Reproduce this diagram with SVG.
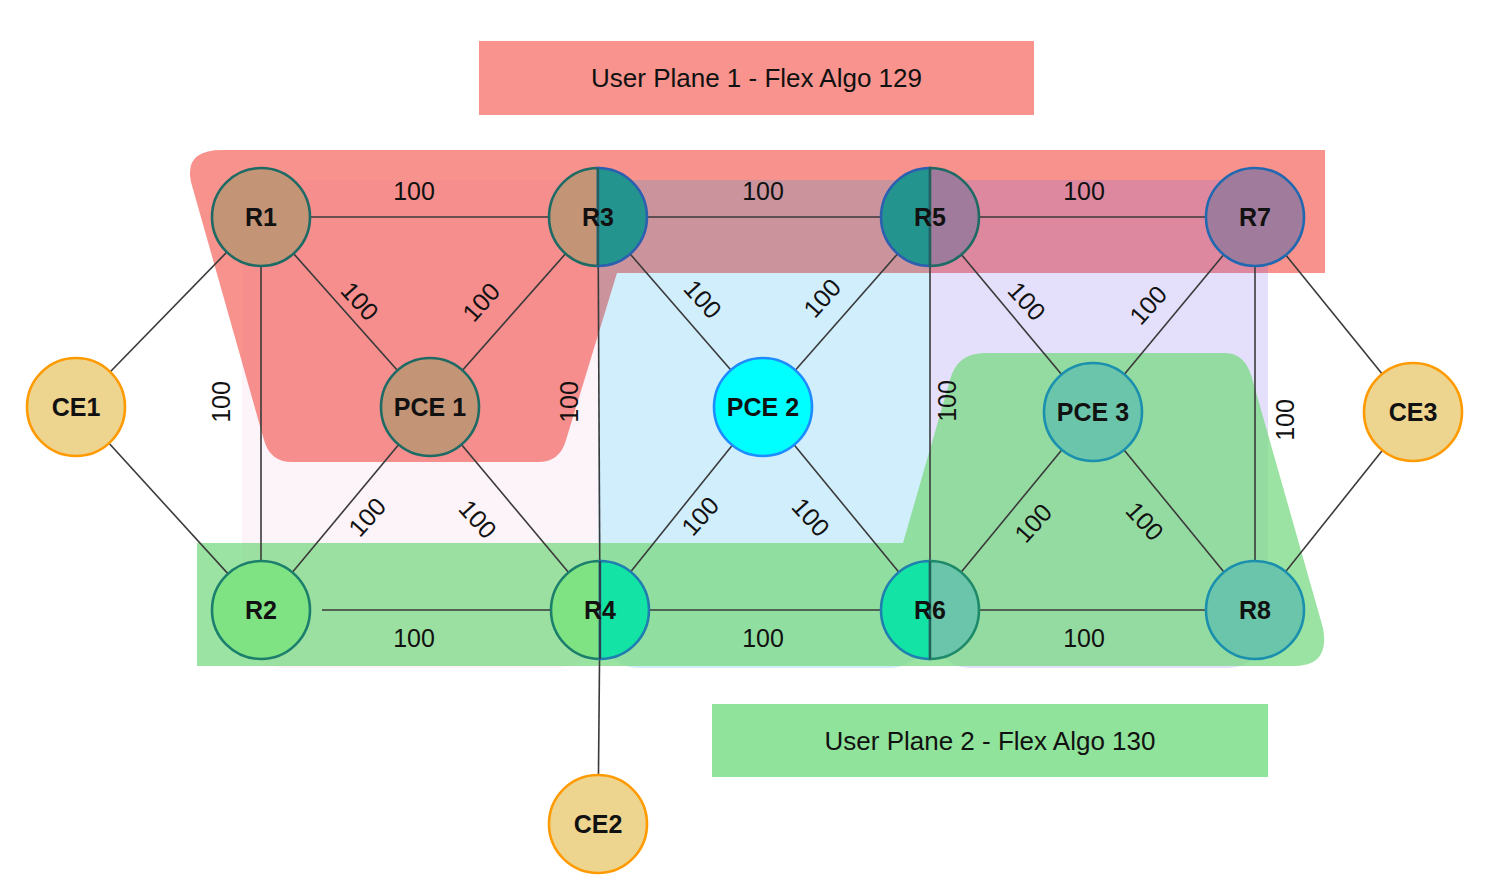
<svg xmlns="http://www.w3.org/2000/svg" width="1510" height="890" viewBox="0 0 1510 890">
<style>
.edge{stroke:#3a3a3a;stroke-width:1.6;fill:none}
.lbl{font-family:"Liberation Sans",Arial,sans-serif;font-size:25px;fill:#111;text-anchor:middle}
.nl{font-family:"Liberation Sans",Arial,sans-serif;font-size:25px;font-weight:bold;fill:#111;text-anchor:middle}
.title{font-family:"Liberation Sans",Arial,sans-serif;font-size:26px;fill:#111;text-anchor:middle}
.ce{fill:#EED58F;stroke:#FF9A00;stroke-width:2.6}
.div{stroke:#22605A;stroke-width:2}
</style>
<rect width="1510" height="890" fill="#fff"/>
<g id="planes">
<path id="plane1" d="M222,150 L1325,150 L1325,273 L617,273 L566,440 Q560,462 538,462 L292,462 Q270,462 264,440 L191,182 Q184,150 222,150 Z" fill="#F8928C"/>
<rect id="domain-pink" x="242" y="180" width="356" height="488" rx="40" fill="#E060A0" opacity="0.065"/>
<rect id="domain-blue" x="598" y="180" width="332" height="488" rx="40" fill="#00A0F0" opacity="0.18"/>
<rect id="domain-lav" x="930" y="180" width="338" height="488" rx="40" fill="#7864F0" opacity="0.2"/>
<path id="plane2" d="M197,543 L903,543 L950,380 Q957,353 985,353 L1225,353 Q1245,353 1252,378 L1323,628 Q1330,666 1295,666 L197,666 Z" fill="#79D983" opacity="0.75"/>
</g>
<g id="title1">
<rect x="479" y="41" width="555" height="74" fill="#F8938D"/>
<text class="title" x="756.5" y="87">User Plane 1 - Flex Algo 129</text>
</g>
<g id="title2">
<rect x="712" y="704" width="556" height="73" fill="#90E39B"/>
<text class="title" x="990" y="750">User Plane 2 - Flex Algo 130</text>
</g>
<g id="connectors">
<line class="edge" x1="261" y1="217" x2="598" y2="217" stroke="#444" stroke-width="2"/>
<line class="edge" x1="598" y1="217" x2="930" y2="217" stroke="#444" stroke-width="2"/>
<line class="edge" x1="930" y1="217" x2="1255" y2="217" stroke="#444" stroke-width="2"/>
<line class="edge" x1="322" y1="610" x2="600" y2="610" stroke="#444" stroke-width="2"/>
<line class="edge" x1="600" y1="610" x2="930" y2="610" stroke="#444" stroke-width="2"/>
<line class="edge" x1="930" y1="610" x2="1255" y2="610" stroke="#444" stroke-width="2"/>
<line class="edge" x1="261" y1="217" x2="261" y2="610" stroke="#555" stroke-width="2"/>
<line class="edge" x1="598" y1="217" x2="600" y2="610"/>
<line class="edge" x1="930" y1="217" x2="930" y2="610" stroke="#555" stroke-width="2"/>
<line class="edge" x1="1255" y1="217" x2="1255" y2="610" stroke="#666" stroke-width="2.2"/>
<line class="edge" x1="600" y1="610" x2="598" y2="824"/>
<line class="edge" x1="261" y1="217" x2="430" y2="407"/>
<line class="edge" x1="598" y1="217" x2="430" y2="407"/>
<line class="edge" x1="261" y1="610" x2="430" y2="407"/>
<line class="edge" x1="600" y1="610" x2="430" y2="407"/>
<line class="edge" x1="598" y1="217" x2="763" y2="407"/>
<line class="edge" x1="930" y1="217" x2="763" y2="407"/>
<line class="edge" x1="600" y1="610" x2="763" y2="407"/>
<line class="edge" x1="930" y1="610" x2="763" y2="407"/>
<line class="edge" x1="930" y1="217" x2="1093" y2="412"/>
<line class="edge" x1="1255" y1="217" x2="1093" y2="412"/>
<line class="edge" x1="930" y1="610" x2="1093" y2="412"/>
<line class="edge" x1="1255" y1="610" x2="1093" y2="412"/>
<line class="edge" x1="76" y1="407" x2="261" y2="217"/>
<line class="edge" x1="76" y1="407" x2="261" y2="610"/>
<line class="edge" x1="1413" y1="412" x2="1255" y2="217"/>
<line class="edge" x1="1413" y1="412" x2="1255" y2="610"/>
</g>
<g id="edge-labels">
<text class="lbl" x="414" y="200">100</text>
<text class="lbl" x="763" y="200">100</text>
<text class="lbl" x="1084" y="200">100</text>
<text class="lbl" x="414" y="647">100</text>
<text class="lbl" x="763" y="647">100</text>
<text class="lbl" x="1084" y="647">100</text>
<text class="lbl" transform="translate(221,402) rotate(-90)" y="9">100</text>
<text class="lbl" transform="translate(569,402) rotate(-90)" y="9">100</text>
<text class="lbl" transform="translate(947,401) rotate(-90)" y="9">100</text>
<text class="lbl" transform="translate(1285,420) rotate(-90)" y="9">100</text>
<text class="lbl" transform="translate(360,301) rotate(48)" y="9">100</text>
<text class="lbl" transform="translate(481,302) rotate(-48)" y="9">100</text>
<text class="lbl" transform="translate(367,517) rotate(-48)" y="9">100</text>
<text class="lbl" transform="translate(478,519) rotate(48)" y="9">100</text>
<text class="lbl" transform="translate(703,299) rotate(48)" y="9">100</text>
<text class="lbl" transform="translate(822,298) rotate(-48)" y="9">100</text>
<text class="lbl" transform="translate(700,516) rotate(-48)" y="9">100</text>
<text class="lbl" transform="translate(811,517) rotate(48)" y="9">100</text>
<text class="lbl" transform="translate(1027,301) rotate(48)" y="9">100</text>
<text class="lbl" transform="translate(1148,305) rotate(-48)" y="9">100</text>
<text class="lbl" transform="translate(1033,523) rotate(-48)" y="9">100</text>
<text class="lbl" transform="translate(1145,521) rotate(48)" y="9">100</text>
</g>
<g id="R1"><circle cx="261" cy="217" r="49" fill="#C49476" stroke="#1E6B65" stroke-width="2.6"/><text class="nl" x="261" y="226">R1</text></g>
<g id="R3">
<path d="M598,168 A49,49 0 0 0 598,266 Z" fill="#C49476" stroke="#1E6B65" stroke-width="2.6"/>
<path d="M598,168 A49,49 0 0 1 598,266 Z" fill="#24948F" stroke="#2C5FB0" stroke-width="2.6"/>
<line class="div" x1="598" y1="168" x2="598" y2="266"/>
<text class="nl" x="598" y="226">R3</text></g>
<g id="R5">
<path d="M930,168 A49,49 0 0 0 930,266 Z" fill="#24948F" stroke="#2C5FB0" stroke-width="2.6"/>
<path d="M930,168 A49,49 0 0 1 930,266 Z" fill="#A07B9B" stroke="#1E6B65" stroke-width="2.6"/>
<line class="div" x1="930" y1="168" x2="930" y2="266"/>
<text class="nl" x="930" y="226">R5</text></g>
<g id="R7"><circle cx="1255" cy="217" r="49" fill="#A07B9B" stroke="#2068B0" stroke-width="2.6"/><text class="nl" x="1255" y="226">R7</text></g>
<g id="PCE1"><circle cx="430" cy="407" r="49" fill="#C49476" stroke="#1E6B65" stroke-width="2.6"/><text class="nl" x="430" y="416">PCE 1</text></g>
<g id="PCE2"><circle cx="763" cy="407" r="49" fill="#00FFFF" stroke="#1E8CFF" stroke-width="2.6"/><text class="nl" x="763" y="416">PCE 2</text></g>
<g id="PCE3"><circle cx="1093" cy="412" r="49" fill="#6AC5AA" stroke="#1A90AE" stroke-width="2.6"/><text class="nl" x="1093" y="421">PCE 3</text></g>
<g id="R2"><circle cx="261" cy="610" r="49" fill="#7FE283" stroke="#1B7F6C" stroke-width="2.6"/><text class="nl" x="261" y="619">R2</text></g>
<g id="R4">
<path d="M600,561 A49,49 0 0 0 600,659 Z" fill="#7FE283" stroke="#1B7F6C" stroke-width="2.6"/>
<path d="M600,561 A49,49 0 0 1 600,659 Z" fill="#13E3A5" stroke="#1F7DB0" stroke-width="2.6"/>
<line x1="600" y1="561" x2="600" y2="659" stroke="#333" stroke-width="1.6"/>
<text class="nl" x="600" y="619">R4</text></g>
<g id="R6">
<path d="M930,561 A49,49 0 0 0 930,659 Z" fill="#13E3A5" stroke="#1F80B0" stroke-width="2.6"/>
<path d="M930,561 A49,49 0 0 1 930,659 Z" fill="#6AC5AA" stroke="#1E8A6A" stroke-width="2.6"/>
<line class="div" x1="930" y1="561" x2="930" y2="659"/>
<text class="nl" x="930" y="619">R6</text></g>
<g id="R8"><circle cx="1255" cy="610" r="49" fill="#6AC5AA" stroke="#1A90AE" stroke-width="2.6"/><text class="nl" x="1255" y="619">R8</text></g>
<g id="CE1"><circle class="ce" cx="76" cy="407" r="49"/><text class="nl" x="76" y="416">CE1</text></g>
<g id="CE3"><circle class="ce" cx="1413" cy="412" r="49"/><text class="nl" x="1413" y="421">CE3</text></g>
<g id="CE2"><circle class="ce" cx="598" cy="824" r="49"/><text class="nl" x="598" y="833">CE2</text></g>
</svg>
